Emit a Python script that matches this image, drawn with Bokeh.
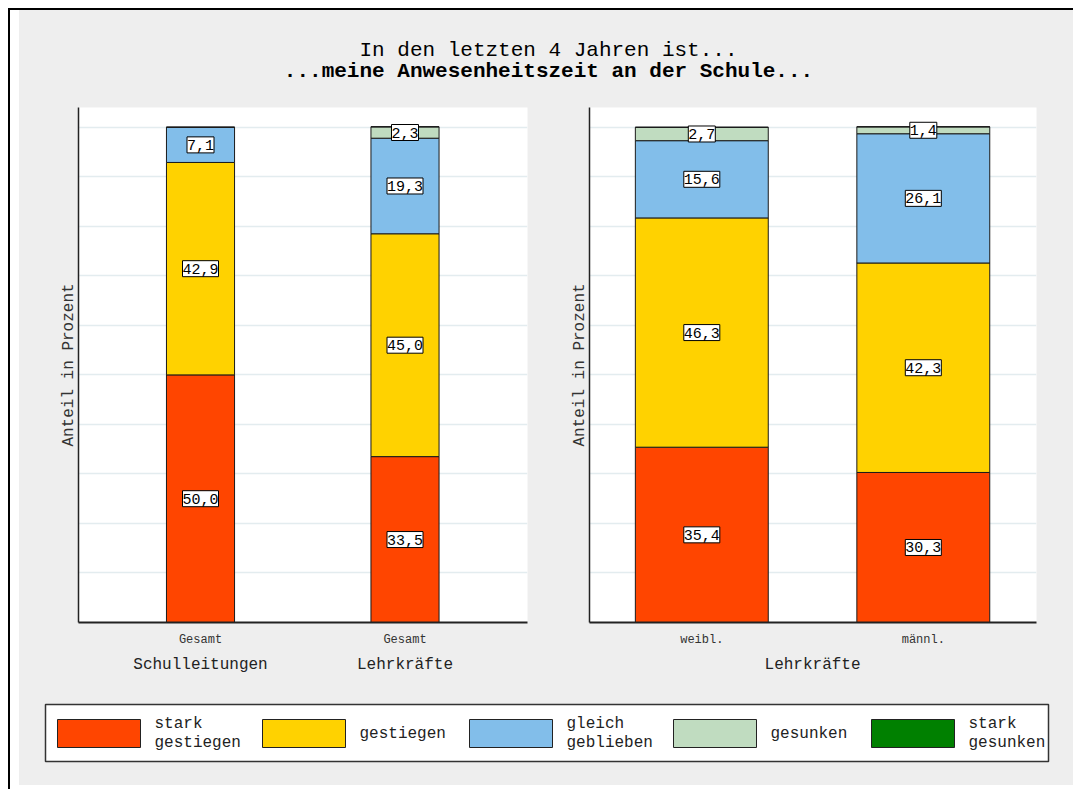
from bokeh.plotting import figure
from bokeh.models import Range1d, FixedTicker, LinearAxis, ColumnDataSource, Spacer
from bokeh.layouts import row, column
from bokeh.core.properties import value
from bokeh.embed import file_html
from bokeh.resources import INLINE

FONT = "Liberation Mono"
BG = "#eeeeee"
TXT = "#222222"

# ---------------- data ----------------
title_line1 = "In den letzten 4 Jahren ist..."
title_line2 = "...meine Anwesenheitszeit an der Schule..."
y_title = "Anteil in Prozent"

categories = ["stark gestiegen", "gestiegen", "gleich geblieben", "gesunken", "stark gesunken"]
colors = ["#FF4500", "#FFD200", "#82BEEA", "#C0DCC0", "#008000"]

left_groups = ["Schulleitungen", "Lehrkräfte"]
left_bars = ["Gesamt", "Gesamt"]
left_stark_gestiegen = [50.0, 33.5]
left_gestiegen = [42.9, 45.0]
left_gleich = [7.1, 19.3]
left_gesunken = [0.0, 2.3]
left_stark_gesunken = [0.0, 0.0]

right_group = "Lehrkräfte"
right_bars = ["weibl.", "männl."]
right_stark_gestiegen = [35.4, 30.3]
right_gestiegen = [46.3, 42.3]
right_gleich = [15.6, 26.1]
right_gesunken = [2.7, 1.4]
right_stark_gesunken = [0.0, 0.0]


def make_panel(bar_labels, group_ticks, group_labels, series, xr, bar_width,
               width, min_left, min_right):
    xs = [float(i + 1) for i in range(len(bar_labels))]
    p = figure(width=width, height=593, x_range=Range1d(*xr), y_range=Range1d(0, 104),
               output_backend="svg", toolbar_location=None,
               min_border_left=min_left, min_border_right=min_right,
               min_border_top=10, min_border_bottom=68)
    p.background_fill_color = "white"
    p.border_fill_color = BG
    p.outline_line_color = None
    p.xgrid.visible = False
    p.ygrid.ticker = FixedTicker(ticks=list(range(10, 101, 10)))
    p.ygrid.grid_line_color = "#e3ecef"
    p.ygrid.grid_line_width = 1.5

    data = {"x": xs}
    for name, vals in zip(categories, series):
        data[name] = vals
    src = ColumnDataSource(data)
    p.vbar_stack(categories, x="x", width=bar_width, fill_color=colors,
                 line_color="#1a1a1a", line_width=1, source=src)

    lx, ly, lt = [], [], []
    for i, x in enumerate(xs):
        base = 0.0
        for vals in series:
            v = vals[i]
            if v > 0:
                lx.append(x)
                ly.append(base + v / 2)
                lt.append(f"{v:.1f}".replace(".", ","))
            base += v
    p.text(x=lx, y=ly, text=lt, text_font=value(FONT), text_font_size="15px",
           text_align="center", text_baseline="middle", text_color="black",
           background_fill_color="white", border_line_color="black",
           border_line_width=1, padding=(0, 3))

    ya = p.yaxis[0]
    ya.ticker = FixedTicker(ticks=[])
    ya.axis_label = y_title
    ya.axis_label_text_font = FONT
    ya.axis_label_text_font_size = "16px"
    ya.axis_label_text_font_style = "normal"
    ya.axis_label_text_color = "#333333"
    ya.axis_label_standoff = 1
    ya.major_tick_out = 0
    ya.major_tick_in = 0
    ya.major_label_standoff = 0
    ya.minor_tick_line_color = None
    ya.axis_line_color = "#222222"
    ya.axis_line_width = 1.5

    xa = p.xaxis[0]
    xa.ticker = FixedTicker(ticks=xs)
    xa.major_label_overrides = {x: lab for x, lab in zip(xs, bar_labels)}
    xa.major_tick_line_color = None
    xa.minor_tick_line_color = None
    xa.axis_line_color = "#222222"
    xa.axis_line_width = 2
    xa.major_label_text_font = FONT
    xa.major_label_text_font_size = "12px"
    xa.major_label_text_color = "#333333"
    xa.major_label_standoff = 4

    ga = LinearAxis(ticker=FixedTicker(ticks=group_ticks),
                    major_label_overrides={t: g for t, g in zip(group_ticks, group_labels)},
                    axis_line_color=None, major_tick_line_color=None,
                    minor_tick_line_color=None,
                    major_label_text_font=FONT, major_label_text_font_size="16px",
                    major_label_text_color=TXT, major_label_standoff=0)
    p.add_layout(ga, "below")
    return p


p1 = make_panel(left_bars, [1.0, 2.0], left_groups,
                [left_stark_gestiegen, left_gestiegen, left_gleich, left_gesunken, left_stark_gesunken],
                (0.4034, 2.599), 0.333, 539, 59, 31)
p2 = make_panel(right_bars, [1.5], [right_group],
                [right_stark_gestiegen, right_gestiegen, right_gleich, right_gesunken, right_stark_gesunken],
                (0.493, 2.511), 0.6, 515, 31, 37)


def blank(width, height, xr, yr):
    f = figure(width=width, height=height, x_range=Range1d(*xr), y_range=Range1d(*yr),
               output_backend="svg", toolbar_location=None,
               x_axis_location=None, y_axis_location=None,
               min_border=0, min_border_left=0, min_border_right=0,
               min_border_top=0, min_border_bottom=0)
    f.grid.visible = False
    f.outline_line_color = None
    f.background_fill_color = BG
    f.border_fill_color = BG
    return f


# title (page-pixel coordinates)
tf = blank(1054, 78, (19, 1073), (97, 19))
tf.text(x=[548, 548], y=[50, 71], text=[title_line1, title_line2],
        text_font=value(FONT), text_font_size="21px", text_align="center",
        text_baseline="middle", text_color="black",
        text_font_style=["normal", "bold"])

# legend (page-pixel coordinates)
lf = blank(1054, 95, (19, 1073), (785, 690))
lf.quad(left=[45], right=[1048], top=[704], bottom=[761], fill_color="white",
        line_color="#333333", line_width=1.5)
key_left = [57, 262, 469, 673, 871]
lf.quad(left=key_left, right=[k + 83 for k in key_left], top=[719] * 5, bottom=[747] * 5,
        fill_color=colors, line_color="#222222", line_width=1)
lf.text(x=[k + 97 for k in key_left], y=[733] * 5,
        text=[c.replace(" ", "\n", 1) for c in categories],
        text_font=value(FONT), text_font_size="16px", text_align="left",
        text_baseline="middle", text_color=TXT, text_line_height=1.1)

bgstyle = {"background-color": BG}
panels = row(p1, p2, styles=bgstyle)
content = column(Spacer(width=1054, height=9), tf, panels, lf, styles=bgstyle)
framed = column(
    Spacer(width=1065, height=2, styles={"background-color": "black"}),
    row(Spacer(width=2, height=779, styles={"background-color": "black"}),
        Spacer(width=9, height=779),
        content),
)
root = column(Spacer(width=1073, height=8), row(Spacer(width=8, height=781), framed))

open("out.html", "w").write(file_html(root, INLINE))
